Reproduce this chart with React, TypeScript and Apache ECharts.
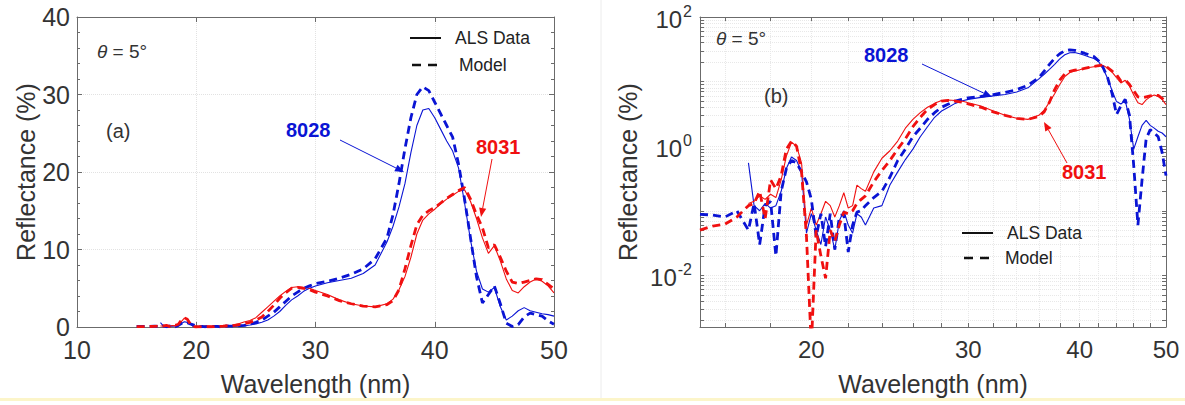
import { useEffect, useRef } from 'react';
import * as echarts from 'echarts';

// ---------------- data ----------------
const wavelength = [
  15, 15.5, 16, 16.5,
  17, 17.25, 17.5, 17.75, 18, 18.25, 18.5, 18.75, 19, 19.25, 19.5, 19.75,
  20, 20.25, 20.5, 20.75, 21, 21.25, 21.5, 21.75, 22, 22.25, 22.5, 22.75, 23,
  23.5, 24, 24.5, 25, 25.5, 26, 26.5, 27, 27.5, 28, 28.5, 29, 29.5, 30,
  31, 32, 33, 34, 35, 36,
  36.5, 37, 37.5, 38, 38.5, 39, 39.5, 40, 40.5, 41, 41.5, 42, 42.5, 43, 43.5,
  44, 44.5, 45, 45.5, 46, 46.5, 47, 47.5, 48, 48.5, 49, 49.5, 50,
];

// 8028 model (blue dashed)
const model8028 = [
  0.088, 0.086, 0.08, 0.1,
  0.05, 0.13, 0.03, 0.12, 0.14, 0.02, 0.2, 0.45, 0.6, 0.55, 0.4, 0.28,
  0.15, 0.04, 0.09, 0.028, 0.09, 0.025, 0.08, 0.09, 0.023, 0.06, 0.095, 0.1, 0.12,
  0.16, 0.2, 0.33, 0.6, 0.9, 1.4, 1.9, 2.6, 3.3, 4.0, 4.5, 5.0, 5.3, 5.6,
  5.9, 6.3, 6.8, 7.5, 8.8, 11.5,
  14.5, 18.5, 23, 27, 30, 31, 30.5, 29, 27.5, 26, 24.5, 21, 16.5, 11.5, 6.5,
  3.1, 4.2, 5.3, 3.0, 0.5, 0.06, 0.3, 1.3, 1.8, 1.6, 1.4, 0.8, 0.35,
];

// 8028 ALS data (blue solid)
const als8028 = [
  null, null, null, null,
  0.55, 0.12, 0.1, 0.13, 0.11, 0.12, 0.2, 0.45, 0.68, 0.6, 0.4, 0.045,
  0.09, 0.05, 0.03, 0.08, 0.05, 0.025, 0.07, 0.1, 0.06, 0.045, 0.09, 0.08, 0.06,
  0.11, 0.12, 0.25, 0.4, 0.62, 0.9, 1.4, 2.0, 2.8, 3.5, 4.0, 4.6, 5.0, 5.3,
  5.7, 6.0, 6.3, 6.9, 8.0, 11,
  13, 15.5, 18.5, 22.5, 26, 28, 28.2, 27, 25.5, 24, 22.7, 20.5, 16, 11.2, 7.2,
  4.9, 4.5, 5.1, 2.6, 0.9, 1.4, 2.1, 2.5, 2.1, 1.9, 1.7, 1.6, 1.4,
];

// 8031 model (red dashed)
const model8031 = [
  0.05, 0.058, 0.062, 0.08,
  0.12, 0.13, 0.2, 0.075, 0.3, 0.22, 0.35, 0.9, 1.2, 1.0, 0.4, 0.04,
  0.0008, 0.05, 0.02, 0.009, 0.05, 0.034, 0.06, 0.095, 0.09, 0.1, 0.13, 0.15, 0.17,
  0.28, 0.42, 0.6, 0.9, 1.3, 2.0, 2.8, 3.7, 4.4, 5.0, 5.1, 5.0, 4.8, 4.5,
  4.0, 3.4, 3.0, 2.7, 2.6, 2.9,
  3.4, 4.8, 7.5, 10.5, 13.2, 14.4, 15, 15.4, 16, 16.6, 17.1, 17.6, 18, 16.5, 14.5,
  12.8, 10.2, 10.6, 9, 7.2, 5.8, 5.6, 5.8, 6, 6.2, 6.1, 5.5, 4.9,
];

// 8031 ALS data (red solid)
const als8031 = [
  null, null, null, null,
  0.13, 0.14, 0.17, 0.15, 0.18, 0.16, 0.3, 0.7, 1.15, 1.0, 0.55, 0.06,
  0.11, 0.06, 0.09, 0.14, 0.12, 0.08, 0.12, 0.19, 0.11, 0.12, 0.25, 0.22, 0.2,
  0.4, 0.65, 0.85, 1.2, 1.9, 2.6, 3.3, 4.0, 4.6, 5.1, 5.2, 5.1, 5.0, 4.7,
  4.2, 3.5, 3.0, 2.7, 2.6, 3.0,
  3.6, 4.8, 6.5, 9.0, 12, 13.8, 14.6, 15.2, 15.9, 16.5, 17, 17.5, 17.7, 16.2, 14,
  11.5, 9.5, 10.5, 8.5, 6.2, 4.7, 4.4, 5.2, 5.8, 6.2, 5.9, 5.3, 4.4,
];

// axis ticks / labels
const linXRange = [10, 50];
const linYRange = [0, 40];
const logXRange = [15, 50];
const logYRange = [0.001585, 100];
const logXLabels = [20, 30, 40, 50];
const logXTicks = [16, 18, 20, 22, 24, 26, 28, 30, 32, 34, 36, 38, 40, 42, 44, 46, 48, 50];
const logYLabels = [0.01, 1, 100];
const logYMantissas = [1, 2, 3, 4, 5, 6, 7, 8, 9];
const logYExponents = [-3, -2, -1, 0, 1, 2];

const BLUE = '#0a14d4';
const RED = '#f01010';
const TXT = '#333333';
const AX = '#6b6b6b';
const FONT = '"Liberation Sans", Arial, Helvetica, sans-serif';

function pairs(ys: (number | null)[]) {
  const out: [number, number][] = [];
  wavelength.forEach((w, i) => {
    const v = ys[i];
    if (v != null) out.push([w, v]);
  });
  return out;
}

function arrow(x1: number, y1: number, x2: number, y2: number, color: string) {
  const dx = x2 - x1;
  const dy = y2 - y1;
  const L = Math.hypot(dx, dy);
  const ux = dx / L;
  const uy = dy / L;
  const hl = 9;
  const hw = 3.6;
  const bx = x2 - ux * hl;
  const by = y2 - uy * hl;
  return [
    { type: 'line', shape: { x1, y1, x2: bx, y2: by }, style: { stroke: color, lineWidth: 1 }, z: 100 },
    {
      type: 'polygon',
      shape: { points: [[x2, y2], [bx - uy * hw, by + ux * hw], [bx + uy * hw, by - ux * hw]] },
      style: { fill: color },
      z: 100,
    },
  ];
}

function txt(x: number, y: number, text: string, size: number, color: string, bold = false, rich?: any) {
  return {
    type: 'text',
    x,
    y,
    z: 100,
    style: {
      text,
      fill: color,
      fontSize: size,
      fontFamily: FONT,
      fontWeight: bold ? 'bold' : 'normal',
      verticalAlign: 'middle',
      align: 'left',
      rich,
    },
  };
}

function legend(x: number, y1: number, y2: number) {
  return [
    { type: 'line', shape: { x1: x, y1, x2: x + 31, y2: y1 }, style: { stroke: '#111', lineWidth: 2 }, z: 100 },
    { type: 'line', shape: { x1: x + 2, y1: y2, x2: x + 31, y2: y2 }, style: { stroke: '#111', lineWidth: 2.5, lineDash: [9, 7] }, z: 100 },
  ];
}

export default function App() {
  const ref = useRef<HTMLDivElement>(null);

  useEffect(() => {
    if (!ref.current) return;
    const chart = echarts.init(ref.current, null, { renderer: 'svg' });

    const logYTicks: number[] = [];
    logYExponents.forEach((e) => {
      logYMantissas.forEach((m) => {
        const v = Number((m * Math.pow(10, e)).toPrecision(3));
        if (v >= logYRange[0] && v <= logYRange[1]) logYTicks.push(v);
      });
    });

    const axLine = { show: true, onZero: false, lineStyle: { color: AX, width: 1 } };
    const tickIn = (len: number) => ({ show: true, inside: true, length: len, lineStyle: { color: AX, width: 1 } });
    const gridLin = { show: true, lineStyle: { color: '#e2e2e2', width: 1, type: 'dotted' } };
    const gridLog = { show: true, lineStyle: { color: '#e8e8e8', width: 1, type: 'dotted' } };
    const lbl = (size: number) => ({ color: TXT, fontSize: size, fontFamily: FONT });

    const lineSeries = (xi: number, yi: number, ys: (number | null)[], color: string, dashed: boolean, z: number) => ({
      type: 'line',
      xAxisIndex: xi,
      yAxisIndex: yi,
      data: pairs(ys),
      showSymbol: false,
      symbol: 'none',
      clip: true,
      silent: true,
      z,
      lineStyle: dashed
        ? { color, width: 2.8, type: [8, 5] }
        : { color, width: 1.1, type: 'solid' },
    });

    const supFmt = (v: number) => {
      const e = Math.round(Math.log10(v));
      return '{b|10}{s|' + String(e) + '}';
    };

    const option: any = {
      animation: false,
      backgroundColor: '#ffffff',
      textStyle: { fontFamily: FONT },
      grid: [
        { left: 77, top: 17, width: 477, height: 310, containLabel: false, outerBoundsMode: 'none' },
        { left: 700, top: 17, width: 466, height: 310, containLabel: false, outerBoundsMode: 'none' },
      ],
      xAxis: [
        {
          type: 'value', gridIndex: 0, position: 'bottom',
          min: linXRange[0], max: linXRange[1], interval: 10,
          axisLine: axLine, axisTick: tickIn(5),
          axisLabel: { ...lbl(25), margin: 10 },
          splitLine: gridLin,
          name: 'Wavelength (nm)', nameLocation: 'middle', nameGap: 44,
          nameTextStyle: { ...lbl(25) },
        },
        {
          type: 'value', gridIndex: 0, position: 'top',
          min: linXRange[0], max: linXRange[1], interval: 10,
          axisLine: axLine, axisTick: tickIn(5), axisLabel: { show: false }, splitLine: { show: false },
        },
        {
          type: 'log', logBase: 10, gridIndex: 1, position: 'bottom',
          min: logXRange[0], max: logXRange[1],
          axisLine: axLine,
          axisTick: { ...tickIn(4), customValues: logXTicks },
          axisLabel: { ...lbl(24), margin: 10, customValues: logXLabels, formatter: (v: number) => String(Math.round(v)) },
          splitLine: gridLog,
          name: 'Wavelength (nm)', nameLocation: 'middle', nameGap: 44,
          nameTextStyle: { ...lbl(25) },
        },
        {
          type: 'log', logBase: 10, gridIndex: 1, position: 'top',
          min: logXRange[0], max: logXRange[1],
          axisLine: axLine,
          axisTick: { ...tickIn(4), customValues: logXTicks },
          axisLabel: { show: false, customValues: logXLabels },
          splitLine: { show: false },
        },
      ],
      yAxis: [
        {
          type: 'value', gridIndex: 0, position: 'left',
          min: linYRange[0], max: linYRange[1], interval: 10,
          axisLine: axLine, axisTick: tickIn(5),
          minorTick: { show: true, splitNumber: 5, length: 3, lineStyle: { color: AX, width: 1 } },
          axisLabel: { ...lbl(25), margin: 7 },
          splitLine: gridLin,
          name: 'Reflectance (%)', nameLocation: 'middle', nameGap: 36, nameRotate: 90,
          nameTextStyle: { ...lbl(25) },
        },
        {
          type: 'value', gridIndex: 0, position: 'right',
          min: linYRange[0], max: linYRange[1], interval: 10,
          axisLine: axLine, axisTick: tickIn(5),
          minorTick: { show: true, splitNumber: 5, length: 3, lineStyle: { color: AX, width: 1 } },
          axisLabel: { show: false }, splitLine: { show: false },
        },
        {
          type: 'log', logBase: 10, gridIndex: 1, position: 'left',
          min: logYRange[0], max: logYRange[1],
          axisLine: axLine,
          axisTick: { ...tickIn(4), customValues: logYTicks },
          axisLabel: {
            margin: 8,
            customValues: logYLabels,
            formatter: supFmt,
            rich: {
              b: { color: TXT, fontSize: 24, fontFamily: FONT, lineHeight: 28, verticalAlign: 'bottom' },
              s: { color: TXT, fontSize: 16, fontFamily: FONT, lineHeight: 28, verticalAlign: 'top', padding: [0, 0, 0, 1] },
            },
          },
          splitLine: gridLog,
          name: 'Reflectance (%)', nameLocation: 'middle', nameGap: 60, nameRotate: 90,
          nameTextStyle: { ...lbl(25) },
        },
        {
          type: 'log', logBase: 10, gridIndex: 1, position: 'right',
          min: logYRange[0], max: logYRange[1],
          axisLine: axLine,
          axisTick: { ...tickIn(4), customValues: logYTicks },
          axisLabel: { show: false, customValues: logYLabels },
          splitLine: { show: false },
        },
      ],
      series: [
        lineSeries(0, 0, als8028, BLUE, false, 2),
        lineSeries(0, 0, als8031, RED, false, 3),
        lineSeries(0, 0, model8028, BLUE, true, 4),
        lineSeries(0, 0, model8031, RED, true, 5),
        lineSeries(2, 2, als8028, BLUE, false, 2),
        lineSeries(2, 2, als8031, RED, false, 3),
        lineSeries(2, 2, model8028, BLUE, true, 4),
        lineSeries(2, 2, model8031, RED, true, 5),
      ],
      graphic: [
        { type: 'rect', shape: { x: 0, y: 398, width: 1185, height: 3 }, style: { fill: '#fcf5c9' }, z: 1 },
        { type: 'line', shape: { x1: 601, y1: 0, x2: 601, y2: 398 }, style: { stroke: '#ececec', lineWidth: 1 }, z: 1 },
        // panel (a)
        txt(97, 51, '{i|θ} = 5°', 19, TXT, false, { i: { fontStyle: 'italic', fontSize: 19, fontFamily: FONT, fill: TXT } }),
        txt(106, 131, '(a)', 20, TXT),
        txt(286, 130, '8028', 20, BLUE, true),
        txt(476, 147, '8031', 20, RED, true),
        ...arrow(340, 140, 404, 172, BLUE),
        ...arrow(492, 159, 481, 217, RED),
        ...legend(410, 38, 65),
        txt(455, 38, 'ALS Data', 17.5, '#222'),
        txt(459, 65, 'Model', 17.5, '#222'),
        // panel (b)
        txt(716, 38, '{i|θ} = 5°', 19, TXT, false, { i: { fontStyle: 'italic', fontSize: 19, fontFamily: FONT, fill: TXT } }),
        txt(764, 96, '(b)', 20, TXT),
        txt(864, 55, '8028', 20, BLUE, true),
        txt(1062, 172, '8031', 20, RED, true),
        ...arrow(922, 64, 992, 97, BLUE),
        ...arrow(1067, 163, 1044, 122, RED),
        ...legend(962, 233, 258),
        txt(1007, 233, 'ALS Data', 17.5, '#222'),
        txt(1005, 258, 'Model', 17.5, '#222'),
      ],
    };

    chart.setOption(option);
    return () => chart.dispose();
  }, []);

  return (
    <div
      ref={ref}
      style={{ position: 'fixed', left: 0, top: 0, width: 1185, height: 405, background: '#fff' }}
    />
  );
}
